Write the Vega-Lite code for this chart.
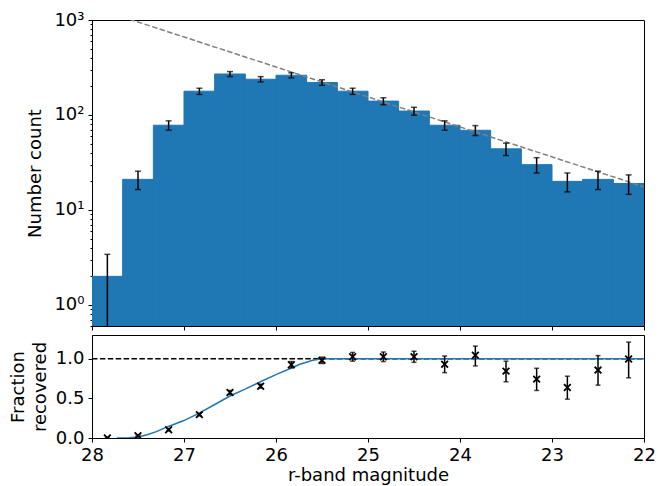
{
  "$schema": "https://vega.github.io/schema/vega-lite/v6.json",
  "padding": {"left": 8, "top": 10, "right": 4, "bottom": 5},
  "spacing": 3,
  "datasets": {
    "bins": [
      {"lo": 27.667, "hi": 28.0, "mag": 27.833, "count": 2, "elo": 0.4, "ehi": 3.41, "frac": 0.0, "flo": -0.01, "fhi": 0.01},
      {"lo": 27.333, "hi": 27.667, "mag": 27.5, "count": 21, "elo": 16.4, "ehi": 25.6, "frac": 0.03, "flo": 0.02, "fhi": 0.04},
      {"lo": 27.0, "hi": 27.333, "mag": 27.167, "count": 78, "elo": 69.2, "ehi": 86.8, "frac": 0.105, "flo": 0.09, "fhi": 0.12},
      {"lo": 26.667, "hi": 27.0, "mag": 26.833, "count": 178, "elo": 164.7, "ehi": 191.3, "frac": 0.295, "flo": 0.28, "fhi": 0.31},
      {"lo": 26.333, "hi": 26.667, "mag": 26.5, "count": 270, "elo": 253.6, "ehi": 286.4, "frac": 0.574, "flo": 0.55, "fhi": 0.6},
      {"lo": 26.0, "hi": 26.333, "mag": 26.167, "count": 238, "elo": 222.6, "ehi": 253.4, "frac": 0.654, "flo": 0.63, "fhi": 0.68},
      {"lo": 25.667, "hi": 26.0, "mag": 25.833, "count": 262, "elo": 245.8, "ehi": 278.2, "frac": 0.925, "flo": 0.885, "fhi": 0.965},
      {"lo": 25.333, "hi": 25.667, "mag": 25.5, "count": 220, "elo": 205.2, "ehi": 234.8, "frac": 0.98, "flo": 0.94, "fhi": 1.02},
      {"lo": 25.0, "hi": 25.333, "mag": 25.167, "count": 178, "elo": 164.7, "ehi": 191.3, "frac": 1.025, "flo": 0.97, "fhi": 1.08},
      {"lo": 24.667, "hi": 25.0, "mag": 24.833, "count": 140, "elo": 128.2, "ehi": 151.8, "frac": 1.025, "flo": 0.965, "fhi": 1.085},
      {"lo": 24.333, "hi": 24.667, "mag": 24.5, "count": 110, "elo": 99.5, "ehi": 120.5, "frac": 1.025, "flo": 0.955, "fhi": 1.095},
      {"lo": 24.0, "hi": 24.333, "mag": 24.167, "count": 78, "elo": 69.2, "ehi": 86.8, "frac": 0.93, "flo": 0.825, "fhi": 1.035},
      {"lo": 23.667, "hi": 24.0, "mag": 23.833, "count": 69, "elo": 60.7, "ehi": 77.3, "frac": 1.045, "flo": 0.91, "fhi": 1.16},
      {"lo": 23.333, "hi": 23.667, "mag": 23.5, "count": 44, "elo": 37.4, "ehi": 50.6, "frac": 0.844, "flo": 0.71, "fhi": 0.97},
      {"lo": 23.0, "hi": 23.333, "mag": 23.167, "count": 30, "elo": 24.5, "ehi": 35.5, "frac": 0.743, "flo": 0.6, "fhi": 0.88},
      {"lo": 22.667, "hi": 23.0, "mag": 22.833, "count": 20, "elo": 15.5, "ehi": 24.5, "frac": 0.637, "flo": 0.49, "fhi": 0.78},
      {"lo": 22.333, "hi": 22.667, "mag": 22.5, "count": 21, "elo": 16.4, "ehi": 25.6, "frac": 0.857, "flo": 0.667, "fhi": 1.04},
      {"lo": 22.0, "hi": 22.333, "mag": 22.167, "count": 19, "elo": 14.6, "ehi": 23.4, "frac": 0.996, "flo": 0.76, "fhi": 1.21}
    ],
    "fit": [
      {"mag": 28.0, "n": 1370},
      {"mag": 22.0, "n": 17.5}
    ],
    "unity": [
      {"mag": 28.0, "f": 1.0},
      {"mag": 22.0, "f": 1.0}
    ],
    "curve": [
      {"mag": 27.73, "f": 0.0},
      {"mag": 27.6, "f": 0.003},
      {"mag": 27.5, "f": 0.013},
      {"mag": 27.4, "f": 0.04},
      {"mag": 27.3, "f": 0.08},
      {"mag": 27.17, "f": 0.146},
      {"mag": 27.0, "f": 0.22},
      {"mag": 26.84, "f": 0.31},
      {"mag": 26.67, "f": 0.42},
      {"mag": 26.5, "f": 0.53},
      {"mag": 26.33, "f": 0.62},
      {"mag": 26.17, "f": 0.71},
      {"mag": 26.0, "f": 0.8},
      {"mag": 25.84, "f": 0.88},
      {"mag": 25.74, "f": 0.93},
      {"mag": 25.6, "f": 0.98},
      {"mag": 25.5, "f": 1.0},
      {"mag": 22.0, "f": 1.0}
    ]
  },
  "vconcat": [
    {
      "width": 552,
      "height": 306,
      "resolve": {"axis": {"y": "independent"}},
      "layer": [
        {
          "data": {"name": "bins"},
          "mark": {"type": "bar", "color": "#1f77b4", "stroke": "#1f77b4", "strokeWidth": 1, "clip": true},
          "encoding": {
            "x": {"field": "lo", "type": "quantitative", "scale": {"domain": [22, 28], "reverse": true, "nice": false, "zero": false},
                  "axis": {"values": [22, 23, 24, 25, 26, 27, 28], "labels": false, "title": null, "tickSize": 4}},
            "x2": {"field": "hi"},
            "y": {"field": "count", "type": "quantitative", "scale": {"type": "log", "domain": [0.6, 1000], "nice": false},
                  "axis": {"orient": "left", "values": [1, 10, 100, 1000], "title": "Number count", "titlePadding": 9, "tickSize": 4,
                           "labelExpr": "datum.value == 1000 ? '10³' : datum.value == 100 ? '10²' : datum.value == 10 ? '10¹' : '10⁰'"}},
            "y2": {"datum": 0.6}
          }
        },
        {
          "data": {"name": "fit"},
          "mark": {"type": "line", "color": "#808080", "strokeWidth": 1.5, "strokeDash": [5.5, 2.4], "clip": true},
          "encoding": {
            "x": {"field": "mag", "type": "quantitative"},
            "y": {"field": "n", "type": "quantitative",
                  "axis": {"orient": "left", "values": [0.6, 0.7, 0.8, 0.9, 2, 3, 4, 5, 6, 7, 8, 9, 20, 30, 40, 50, 60, 70, 80, 90, 200, 300, 400, 500, 600, 700, 800, 900],
                           "labels": false, "domain": false, "title": null, "tickSize": 2}}
          }
        },
        {
          "data": {"name": "bins"},
          "mark": {"type": "rule", "color": "black", "strokeWidth": 1.5, "clip": true},
          "encoding": {
            "x": {"field": "mag", "type": "quantitative"},
            "y": {"field": "elo", "type": "quantitative", "axis": null},
            "y2": {"field": "ehi"}
          }
        },
        {
          "data": {"name": "bins"},
          "mark": {"type": "tick", "orient": "horizontal", "color": "black", "thickness": 1.5, "size": 6, "clip": true},
          "encoding": {
            "x": {"field": "mag", "type": "quantitative"},
            "y": {"field": "elo", "type": "quantitative", "axis": null}
          }
        },
        {
          "data": {"name": "bins"},
          "mark": {"type": "tick", "orient": "horizontal", "color": "black", "thickness": 1.5, "size": 6, "clip": true},
          "encoding": {
            "x": {"field": "mag", "type": "quantitative"},
            "y": {"field": "ehi", "type": "quantitative", "axis": null}
          }
        }
      ]
    },
    {
      "width": 552,
      "height": 103,
      "layer": [
        {
          "data": {"name": "unity"},
          "mark": {"type": "line", "color": "black", "strokeWidth": 1.5, "strokeDash": [5.5, 2.4], "clip": true},
          "encoding": {
            "x": {"field": "mag", "type": "quantitative", "scale": {"domain": [22, 28], "reverse": true, "nice": false, "zero": false},
                  "axis": {"values": [22, 23, 24, 25, 26, 27, 28], "format": "d", "title": "r-band magnitude", "tickSize": 4, "titlePadding": 2}},
            "y": {"field": "f", "type": "quantitative", "scale": {"domain": [0, 1.3], "nice": false, "zero": false},
                  "axis": {"values": [0, 0.5, 1.0], "format": ".1f", "title": ["Fraction", "recovered"], "titlePadding": 6, "titleLineHeight": 22, "tickSize": 4}}
          }
        },
        {
          "data": {"name": "curve"},
          "mark": {"type": "line", "color": "#1f77b4", "strokeWidth": 1.5, "clip": true},
          "encoding": {
            "x": {"field": "mag", "type": "quantitative"},
            "y": {"field": "f", "type": "quantitative"}
          }
        },
        {
          "data": {"name": "bins"},
          "mark": {"type": "rule", "color": "black", "strokeWidth": 1.5, "clip": true},
          "encoding": {
            "x": {"field": "mag", "type": "quantitative"},
            "y": {"field": "flo", "type": "quantitative"},
            "y2": {"field": "fhi"}
          }
        },
        {
          "data": {"name": "bins"},
          "mark": {"type": "tick", "orient": "horizontal", "color": "black", "thickness": 1.5, "size": 5, "clip": true},
          "encoding": {
            "x": {"field": "mag", "type": "quantitative"},
            "y": {"field": "flo", "type": "quantitative"}
          }
        },
        {
          "data": {"name": "bins"},
          "mark": {"type": "tick", "orient": "horizontal", "color": "black", "thickness": 1.5, "size": 5, "clip": true},
          "encoding": {
            "x": {"field": "mag", "type": "quantitative"},
            "y": {"field": "fhi", "type": "quantitative"}
          }
        },
        {
          "data": {"name": "bins"},
          "mark": {"type": "point", "shape": "M-1,-1L1,1M-1,1L1,-1", "filled": false, "color": "black", "strokeWidth": 1.8, "size": 45, "opacity": 1, "clip": true},
          "encoding": {
            "x": {"field": "mag", "type": "quantitative"},
            "y": {"field": "frac", "type": "quantitative"}
          }
        }
      ]
    }
  ],
  "config": {
    "font": "DejaVu Sans",
    "view": {"stroke": "black", "strokeWidth": 1},
    "axis": {
      "domainColor": "black", "tickColor": "black", "labelColor": "black", "titleColor": "black",
      "labelFontSize": 18, "titleFontSize": 18, "titleFontWeight": "normal", "labelFont": "DejaVu Sans", "titleFont": "DejaVu Sans",
      "grid": false, "labelPadding": 4, "labelFlush": false, "labelOverlap": false, "domainWidth": 1, "tickWidth": 1
    }
  }
}
